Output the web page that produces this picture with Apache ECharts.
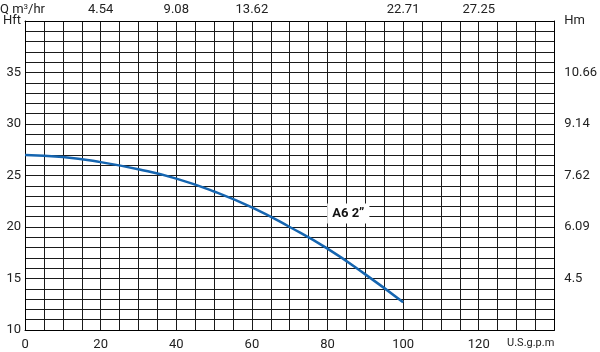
<!DOCTYPE html>
<html>
<head>
<meta charset="utf-8">
<script src="https://cdn.jsdelivr.net/npm/echarts@6/dist/echarts.min.js"></script>
<style>
    html, body { margin: 0; padding: 0; background: #fff; }
    #main { width: 600px; height: 352px; }
</style>
</head>
<body>
<div id="main"></div>
<script>
    // pump curve A6 2"
    var gpm = [0, 10, 20, 30, 40, 50, 60, 70, 80, 90, 100];
    var headFt = [27.0, 26.8, 26.3, 25.6, 24.7, 23.45, 21.9, 20.0, 17.9, 15.4, 12.7];

    var bottomTicks = [0, 20, 40, 60, 80, 100, 120, 140];
    var bottomLabels = ['0', '20', '40', '60', '80', '100', '120', 'U.S.g.p.m'];
    var topTicks = [20, 40, 60, 100, 120];
    var topLabels = ['4.54', '9.08', '13.62', '22.71', '27.25'];
    var ftTicks = [10, 15, 20, 25, 30, 35, 40];
    var ftLabels = ['10', '15', '20', '25', '30', '35', 'Hft'];
    var mLabels = ['', '4.5', '6.09', '7.62', '9.14', '10.66', 'Hm'];

    var curveName = 'A6 2\u201D';
    var labelAt = [85.5, 21.3];

    function lookup(ticks, labels) {
        return function (v) {
            var i = ticks.indexOf(Math.round(v * 100) / 100);
            return i < 0 ? '' : labels[i];
        };
    }

    var gridColor = '#1a1a1a';
    var font = { fontFamily: 'Roboto', fontSize: 13, color: '#222' };

    function xAxisBase(pos, fmt, extra) {
        var ax = {
            type: 'value', position: pos, min: 0, max: 140, interval: 5,
            axisLine: { show: true, onZero: false, lineStyle: { color: '#000', width: 1 } },
            axisTick: { show: false },
            splitLine: { show: true, lineStyle: { color: gridColor, width: 1 } },
            axisLabel: Object.assign({ formatter: fmt, margin: 6, showMinLabel: true, showMaxLabel: true }, font, extra || {})
        };
        return ax;
    }

    function yAxisBase(pos, fmt, margin) {
        return {
            type: 'value', position: pos, min: 10, max: 40, interval: 1,
            axisLine: { show: true, onZero: false, lineStyle: { color: '#000', width: 1 } },
            axisTick: { show: false },
            splitLine: { show: true, lineStyle: { color: gridColor, width: 1 } },
            axisLabel: Object.assign({ formatter: fmt, margin: margin, showMinLabel: true, showMaxLabel: true }, font)
        };
    }

    var bottomFmt = lookup(bottomTicks, bottomLabels);

    var myChart = echarts.init(document.getElementById('main'));
    var option = {
        animation: false,
        backgroundColor: '#fff',
        title: {
            left: 0, top: 3, padding: 0,
            text: '{q|Q m}{s|3}{q|/hr}',
            textStyle: {
                fontWeight: 'normal',
                rich: {
                    q: { fontFamily: 'Roboto', fontSize: 13, fontWeight: 'normal', color: '#222' },
                    s: { fontFamily: 'Roboto', fontSize: 8, fontWeight: 'normal', color: '#222', verticalAlign: 'top', padding: [0, 0, 6, 0] }
                }
            }
        },
        grid: { left: 25, right: 40, top: 21, bottom: 22, containLabel: false },
        xAxis: [
            xAxisBase('bottom', function (v) {
                var s = bottomFmt(v);
                return v === 140 ? '{u|' + s + '}' : s;
            }, {
                margin: 8,
                alignMaxLabel: 'right',
                rich: { u: { fontFamily: 'Roboto', fontSize: 11, color: '#222' } }
            }),
            xAxisBase('top', lookup(topTicks, topLabels), { margin: 5 })
        ],
        yAxis: [
            yAxisBase('left', lookup(ftTicks, ftLabels), 4),
            yAxisBase('right', lookup(ftTicks, mLabels), 10)
        ],
        series: [
            {
                type: 'line',
                name: curveName,
                data: gpm.map(function (x, i) { return [x, headFt[i]]; }),
                smooth: true,
                showSymbol: false,
                lineStyle: { color: '#1565b0', width: 2.5 },
                markPoint: {
                    symbol: 'rect',
                    symbolSize: 0,
                    data: [{ coord: labelAt }],
                    label: {
                        show: true,
                        formatter: curveName,
                        position: 'inside',
                        fontFamily: 'Roboto',
                        fontWeight: 'bold',
                        fontSize: 13,
                        color: '#111',
                        backgroundColor: '#fff',
                        padding: [4, 5, 3, 5]
                    }
                }
            }
        ]
    };
    myChart.setOption(option);
</script>
</body>
</html>
